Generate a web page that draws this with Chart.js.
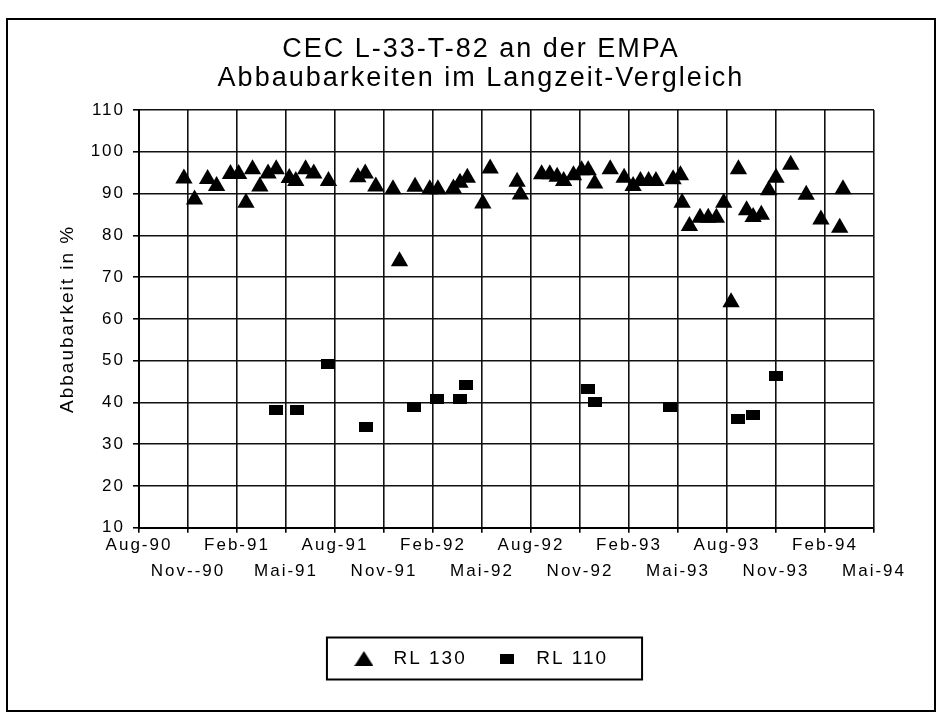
<!DOCTYPE html>
<html>
<head>
<meta charset="utf-8">
<script src="https://cdn.jsdelivr.net/npm/chart.js@4.4.1/dist/chart.umd.min.js"></script>
<style>
  html, body { margin: 0; padding: 0; background: #fff; }
  #wrap { width: 942px; height: 720px; }
</style>
</head>
<body>
<div id="wrap"><canvas id="myChart" width="942" height="720"></canvas></div>
<script>
// x = months counted from Aug-90
var tickLabels = ['Aug-90', 'Nov--90', 'Feb-91', 'Mai-91', 'Aug-91', 'Nov-91', 'Feb-92', 'Mai-92',
                  'Aug-92', 'Nov-92', 'Feb-93', 'Mai-93', 'Aug-93', 'Nov-93', 'Feb-94', 'Mai-94'];

var rl130Months = [2.75, 3.4, 4.2, 4.75, 5.6, 6.1, 6.55, 6.95, 7.4, 7.9, 8.4, 9.2, 9.6, 10.2, 10.7, 11.6,
                   13.4, 13.85, 14.5, 15.55, 15.95, 16.9, 17.8, 18.3, 19.25, 19.65, 20.1, 21.05, 21.5, 23.15, 23.35,
                   24.65, 25.15, 25.6, 26.0, 26.6, 27.1, 27.5, 27.9, 28.85, 29.7, 30.25, 30.7, 31.2, 31.65, 32.7, 33.15, 33.25,
                   33.7, 34.35, 34.85, 35.35, 35.8, 36.25, 36.7, 37.2, 37.6, 38.1, 38.55, 39.0, 39.9, 40.85, 41.75, 42.9, 43.1];
var rl130Values = [93.6, 88.6, 93.5, 91.8, 94.7, 94.7, 87.8, 95.8, 91.7, 94.8, 95.8, 93.7, 93.0, 95.8, 94.8, 93.0,
                   93.9, 94.8, 91.7, 91.0, 73.8, 91.6, 91.0, 91.0, 91.2, 92.6, 93.8, 87.6, 96.0, 92.8, 89.8,
                   94.6, 94.6, 94.0, 93.0, 94.4, 95.6, 95.6, 92.4, 95.8, 93.8, 91.8, 93.0, 93.0, 93.0, 93.4, 94.4, 87.8,
                   82.2, 84.2, 84.2, 84.2, 87.8, 64.0, 95.8, 86.0, 84.4, 84.9, 90.8, 93.8, 96.9, 89.7, 83.8, 81.8, 91.0];

var rl110Months = [8.4, 9.7, 11.55, 13.9, 16.85, 18.25, 19.65, 20.05, 27.5, 27.9, 32.5, 36.65, 37.6, 39.0];
var rl110Values = [38.1, 38.1, 49.2, 34.0, 38.8, 40.8, 40.8, 44.2, 43.2, 40.0, 38.9, 36.0, 37.0, 46.2];

function toPoints(xs, ys) {
	return xs.map(function (x, i) { return { x: x, y: ys[i] }; });
}

// flat black box used as marker for RL 110
var boxMarker = document.createElement('canvas');
boxMarker.width = 14;
boxMarker.height = 10;
var bctx = boxMarker.getContext('2d');
bctx.fillStyle = '#000';
bctx.fillRect(0, 0, 14, 10);

// triangle for the legend only (the built-in one gets stretched there)
var triMarker = document.createElement('canvas');
triMarker.width = 19;
triMarker.height = 15;
var tctx = triMarker.getContext('2d');
tctx.fillStyle = '#000';
tctx.beginPath();
tctx.moveTo(9.5, 0);
tctx.lineTo(19, 15);
tctx.lineTo(0, 15);
tctx.closePath();
tctx.fill();

var spacing = '2px';
var fontName = "'Liberation Sans', Arial, sans-serif";

var pagePlugin = {
	id: 'page',
	beforeLayout: function (chart) {
		chart.ctx.letterSpacing = spacing;
	},
	afterLayout: function (chart) {
		// title and legend sit a bit right of the layout centre
		chart.titleBlock.left += 18;
		chart.titleBlock.right += 18;
		chart.legend.left += 13;
		chart.legend.right += 13;
	},
	beforeDraw: function (chart) {
		var c = chart.ctx;
		c.letterSpacing = spacing;
		c.save();
		c.fillStyle = '#fff';
		c.fillRect(0, 0, chart.width, chart.height);
		c.strokeStyle = '#000';
		c.lineWidth = 2;
		c.strokeRect(7, 19, 928, 692);
		c.restore();
	},
	afterDraw: function (chart) {
		var c = chart.ctx;
		var hb = chart.legend.legendHitBoxes;
		if (!hb || !hb.length) return;
		var first = hb[0], last = hb[hb.length - 1];
		var x0 = first.left - 17;
		var x1 = last.left + last.width + 34;
		var cy = first.top + first.height / 2;
		c.save();
		c.strokeStyle = '#000';
		c.lineWidth = 2;
		c.strokeRect(x0, cy - 21, x1 - x0, 42);
		c.restore();
	}
};

var ctx = document.getElementById('myChart').getContext('2d');
var chart = new Chart(ctx, {
	type: 'scatter',
	data: {
		datasets: [{
			label: 'RL 130',
			data: toPoints(rl130Months, rl130Values),
			pointStyle: 'triangle',
			pointRadius: 10,
			backgroundColor: '#000',
			borderColor: '#000',
			borderWidth: 0
		},
		{
			label: 'RL 110',
			data: toPoints(rl110Months, rl110Values),
			pointStyle: boxMarker,
			pointRadius: 7,
			backgroundColor: '#000',
			borderColor: '#000',
			borderWidth: 0
		}]
	},
	options: {
		responsive: false,
		animation: false,
		events: [],
		layout: {
			padding: { left: 52, right: 68, top: 0, bottom: 42 }
		},
		scales: {
			x: {
				type: 'linear',
				min: 0,
				max: 45,
				afterFit: function (scale) { scale.height = 101.3; },
				ticks: {
					stepSize: 3,
					autoSkip: false,
					maxRotation: 0,
					minRotation: 0,
					padding: 0,
					color: '#000',
					font: { family: fontName, size: 17, lineHeight: 1.53 },
					callback: function (value, index) {
						var t = tickLabels[index] || '';
						return index % 2 === 0 ? [t, ''] : ['', t];
					}
				},
				grid: { color: '#111', lineWidth: 1.6, tickLength: 5, tickColor: '#000' },
				border: { color: '#000', width: 2 }
			},
			y: {
				min: 10,
				max: 110,
				afterFit: function (scale) { scale.width = 87; },
				ticks: {
					stepSize: 10,
					padding: 8,
					color: '#000',
					font: { family: fontName, size: 17 }
				},
				grid: { color: '#111', lineWidth: 1.6, tickLength: 6, tickColor: '#000' },
				border: { color: '#000', width: 2 },
				title: {
					display: true,
					text: 'Abbaubarkeit in %',
					color: '#000',
					padding: { top: 4, bottom: 0 },
					font: { family: fontName, size: 19, lineHeight: 1.2 }
				}
			}
		},
		plugins: {
			title: {
				display: true,
				text: ['CEC L-33-T-82 an der EMPA', 'Abbaubarkeiten im Langzeit-Vergleich'],
				color: '#000',
				padding: { top: 35.8, bottom: 17.5 },
				font: { family: fontName, size: 27, weight: 'normal', lineHeight: 1.05 }
			},
			legend: {
				position: 'bottom',
				labels: {
					usePointStyle: true,
					pointStyleWidth: 40,
					boxHeight: 14,
					padding: 20,
					color: '#000',
					font: { family: fontName, size: 19 },
					generateLabels: function (chart) {
						var items = Chart.defaults.plugins.legend.labels.generateLabels(chart);
						items.forEach(function (item) {
							if (item.datasetIndex === 0) item.pointStyle = triMarker;
						});
						return items;
					}
				}
			},
			tooltip: { enabled: false }
		}
	},
	plugins: [pagePlugin]
});
</script>
</body>
</html>
